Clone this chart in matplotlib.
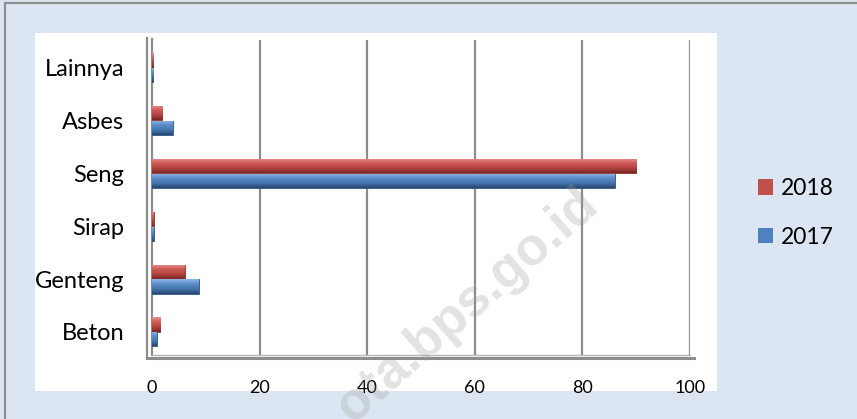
import numpy as np
import matplotlib
matplotlib.use("Agg")
import matplotlib.pyplot as plt
from matplotlib.colors import LinearSegmentedColormap
from matplotlib.patches import Rectangle, Patch

# Roofing material shares (%), bottom to top
categories = ["Beton", "Genteng", "Sirap", "Seng", "Asbes", "Lainnya"]
values_2017 = [0.9, 8.7, 0.3, 86.0, 3.9, 0.2]
values_2018 = [1.5, 6.1, 0.3, 90.0, 1.9, 0.2]
x_ticks = [0, 20, 40, 60, 80, 100]

plt.rcParams["font.family"] = ["Lato", "DejaVu Sans"]

BG = "#dce6f2"
RED = "#c0504d"
BLUE = "#4f81bd"
GRID = "#8c8c8c"

W, H = 857, 419
fig = plt.figure(figsize=(W / 100, H / 100), dpi=100)
fig.patch.set_facecolor(BG)

# outer frame line and the white plot area
fig.add_artist(Rectangle((5 / W, -0.1), 1.2, 1 - 3 / H + 0.1, transform=fig.transFigure,
                         facecolor="none", edgecolor="#8f8f8f", lw=1.6, zorder=0))
fig.add_artist(Rectangle((35 / W, 1 - 391 / H), (717 - 35) / W, (391 - 33) / H,
                         transform=fig.transFigure, facecolor="white", edgecolor="none", zorder=0))

ax = fig.add_axes([152 / W, 1 - 355 / H, 538 / W, 315 / H])
ax.set_facecolor("none")
for s in ax.spines.values():
    s.set_visible(False)

y = np.arange(len(categories))
h = 0.27
off = 0.14

cmaps = {
    RED: LinearSegmentedColormap.from_list("r", ["#7a2725", "#b3433f", "#cf5a56", "#e8918d"]),
    BLUE: LinearSegmentedColormap.from_list("b", ["#27466f", "#4475b0", "#5a8ccb", "#93b8e6"]),
}
grad = np.linspace(0, 1, 64).reshape(-1, 1)

bars17 = ax.barh(y - off, values_2017, height=h, color=BLUE, edgecolor="#2f5282", lw=0.6, zorder=3)
bars18 = ax.barh(y + off, values_2018, height=h, color=RED, edgecolor="#8a302d", lw=0.6, zorder=3)

# cylinder-like shading inside each bar
for bars, col in [(bars17, BLUE), (bars18, RED)]:
    for p in bars:
        x0, y0 = p.get_x(), p.get_y()
        im = ax.imshow(grad, cmap=cmaps[col], origin="lower", aspect="auto",
                       extent=(x0, x0 + p.get_width(), y0, y0 + p.get_height()),
                       zorder=3.5, interpolation="bicubic")
        im.set_clip_path(p)

ax.set_xlim(0, 100)
ax.set_ylim(-0.44, 5.53)

# back wall gridlines, left wall and floor
for t in x_ticks[1:]:
    ax.axvline(t, color=GRID, lw=1.6, zorder=1)
ax.plot([0, 0], [-0.44, 5.55], color=GRID, lw=1.6, clip_on=False, zorder=2)
ax.plot([-0.9, -0.9], [-0.5, 5.57], color=GRID, lw=1.6, clip_on=False, zorder=2)
ax.plot([-0.9, 100.8], [-0.5, -0.5], color=GRID, lw=2.2, clip_on=False, zorder=2)
ax.plot([0, 100], [-0.44, -0.44], color="#b5b5b5", lw=1.0, clip_on=False, zorder=2)

ax.set_xticks(x_ticks)
ax.set_xticklabels([str(t) for t in x_ticks], fontsize=13)
ax.set_yticks(y)
ax.set_yticklabels(categories, fontsize=17)
ax.tick_params(axis="x", length=0, pad=18)
ax.tick_params(axis="y", length=0, pad=20)

handles = [Patch(facecolor=RED, edgecolor="none"), Patch(facecolor=BLUE, edgecolor="none")]
fig.legend(handles, ["2018", "2017"], loc="upper left", bbox_to_anchor=(758 / W, 1 - 178 / H),
           frameon=False, fontsize=16.5, handlelength=0.65, handleheight=0.65,
           handletextpad=0.35, labelspacing=1.2, borderpad=0, borderaxespad=0)

# site watermark
fig.text(0.545, 0.27, "ota.bps.go.id", rotation=41, fontsize=38, fontweight="bold",
         family="Liberation Sans", color="#9a9a9a", alpha=0.28,
         ha="center", va="center", zorder=10)

fig.savefig("out.png", dpi=100, facecolor=BG)
